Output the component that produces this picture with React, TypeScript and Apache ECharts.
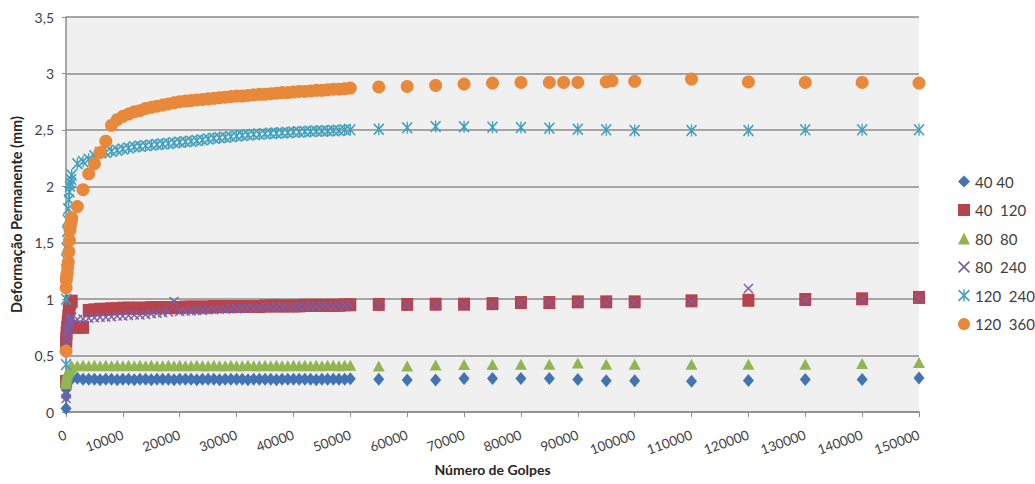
import React, { useEffect, useRef } from "react";
import * as echarts from "echarts";

// Load cycles (número de golpes) shared by most test series
const golpes = [
  10, 20, 50, 100, 200, 300, 400, 500, 600, 700, 800, 900, 1000,
  2000, 3000, 4000, 5000, 6000, 7000, 8000, 9000, 10000,
  11000, 12000, 13000, 14000, 15000, 16000, 17000, 18000, 19000, 20000,
  21000, 22000, 23000, 24000, 25000, 26000, 27000, 28000, 29000, 30000,
  31000, 32000, 33000, 34000, 35000, 36000, 37000, 38000, 39000, 40000,
  41000, 42000, 43000, 44000, 45000, 46000, 47000, 48000, 49000, 50000,
  55000, 60000, 65000, 70000, 75000, 80000, 85000, 90000, 95000, 100000,
  110000, 120000, 130000, 140000, 150000,
];

// The 120/360 test has two extra readings (87500 and 96000)
const golpes120x360 = [
  10, 20, 50, 100, 200, 300, 400, 500, 600, 700, 800, 900, 1000,
  2000, 3000, 4000, 5000, 6000, 7000, 8000, 9000, 10000,
  11000, 12000, 13000, 14000, 15000, 16000, 17000, 18000, 19000, 20000,
  21000, 22000, 23000, 24000, 25000, 26000, 27000, 28000, 29000, 30000,
  31000, 32000, 33000, 34000, 35000, 36000, 37000, 38000, 39000, 40000,
  41000, 42000, 43000, 44000, 45000, 46000, 47000, 48000, 49000, 50000,
  55000, 60000, 65000, 70000, 75000, 80000, 85000, 87500, 90000, 95000, 96000, 100000,
  110000, 120000, 130000, 140000, 150000,
];

// Permanent deformation (mm)
const def40x40 = [
  0.03, 0.14, 0.2, 0.22, 0.25, 0.26, 0.27, 0.27, 0.28, 0.28, 0.29, 0.29, 0.3,
  0.3, 0.29, 0.29, 0.29, 0.285, 0.29, 0.29, 0.285, 0.29,
  0.29, 0.285, 0.29, 0.29, 0.285, 0.29, 0.29, 0.29, 0.285, 0.29,
  0.29, 0.29, 0.285, 0.29, 0.29, 0.29, 0.285, 0.29, 0.29, 0.29,
  0.29, 0.285, 0.29, 0.29, 0.29, 0.29, 0.285, 0.29, 0.29, 0.29,
  0.29, 0.29, 0.29, 0.285, 0.29, 0.29, 0.29, 0.29, 0.29, 0.295,
  0.29, 0.284, 0.284, 0.296, 0.296, 0.296, 0.296, 0.287, 0.278, 0.278,
  0.272, 0.28, 0.287, 0.287, 0.302,
];

const def40x120 = [
  0.27, 0.61, 0.65, 0.7, 0.75, 0.8, 0.85, 0.9, 0.93, 0.96, 0.98, 0.98, 0.98,
  0.75, 0.75, 0.9, 0.905, 0.91, 0.91, 0.915, 0.915, 0.92,
  0.92, 0.92, 0.92, 0.92, 0.925, 0.925, 0.925, 0.925, 0.925, 0.925,
  0.93, 0.93, 0.93, 0.93, 0.93, 0.935, 0.935, 0.935, 0.935, 0.935,
  0.935, 0.935, 0.935, 0.935, 0.94, 0.94, 0.94, 0.94, 0.94, 0.94,
  0.94, 0.945, 0.945, 0.945, 0.945, 0.945, 0.945, 0.945, 0.95, 0.95,
  0.953, 0.953, 0.955, 0.955, 0.96, 0.97, 0.97, 0.976, 0.976, 0.976,
  0.985, 0.99, 0.997, 1.003, 1.015,
];

const def80x80 = [
  0.25, 0.27, 0.29, 0.31, 0.33, 0.35, 0.36, 0.37, 0.38, 0.39, 0.4, 0.4, 0.41,
  0.41, 0.415, 0.41, 0.415, 0.41, 0.415, 0.41, 0.415, 0.41,
  0.415, 0.41, 0.415, 0.41, 0.415, 0.41, 0.41, 0.415, 0.41, 0.415,
  0.41, 0.41, 0.415, 0.41, 0.41, 0.415, 0.41, 0.41, 0.415, 0.41,
  0.41, 0.415, 0.41, 0.41, 0.415, 0.41, 0.415, 0.41, 0.41, 0.415,
  0.41, 0.415, 0.41, 0.415, 0.41, 0.415, 0.415, 0.41, 0.415, 0.415,
  0.408, 0.408, 0.417, 0.42, 0.42, 0.423, 0.423, 0.435, 0.423, 0.423,
  0.423, 0.423, 0.423, 0.43, 0.438,
];

const def80x240 = [
  0.12, 0.16, 0.6, 0.65, 0.7, 0.72, 0.75, 0.78, 0.8, 0.82, 0.83, 0.84, 0.84,
  0.82, 0.825, 0.83, 0.835, 0.84, 0.84, 0.845, 0.85, 0.85,
  0.855, 0.86, 0.86, 0.865, 0.87, 0.875, 0.88, 0.885, 0.98, 0.89,
  0.895, 0.895, 0.9, 0.9, 0.905, 0.905, 0.91, 0.91, 0.915, 0.915,
  0.92, 0.92, 0.92, 0.925, 0.925, 0.925, 0.93, 0.93, 0.93, 0.93,
  0.935, 0.935, 0.935, 0.935, 0.94, 0.94, 0.94, 0.94, 0.945, 0.945,
  0.948, 0.948, 0.95, 0.95, 0.955, 0.965, 0.965, 0.97, 0.97, 0.972,
  0.98, 1.095, 0.99, 1.0, 1.01,
];

const def120x240 = [
  0.42, 1.0, 1.35, 1.45, 1.6, 1.7, 1.8, 1.88, 1.95, 2.0, 2.03, 2.06, 2.1,
  2.2, 2.22, 2.24, 2.27, 2.3, 2.3, 2.31, 2.32, 2.33,
  2.34, 2.35, 2.355, 2.36, 2.365, 2.37, 2.375, 2.38, 2.385, 2.39,
  2.395, 2.4, 2.405, 2.41, 2.42, 2.425, 2.43, 2.435, 2.44, 2.445,
  2.45, 2.455, 2.46, 2.46, 2.465, 2.47, 2.47, 2.475, 2.475, 2.48,
  2.48, 2.485, 2.485, 2.49, 2.49, 2.49, 2.495, 2.495, 2.5, 2.5,
  2.506, 2.518, 2.53, 2.527, 2.524, 2.52, 2.515, 2.506, 2.5, 2.494,
  2.494, 2.494, 2.5, 2.5, 2.5,
];

const def120x360 = [
  0.54, 1.1, 1.17, 1.2, 1.23, 1.28, 1.33, 1.42, 1.52, 1.61, 1.66, 1.69, 1.72,
  1.82, 1.97, 2.11, 2.2, 2.3, 2.4, 2.54, 2.59, 2.62,
  2.64, 2.66, 2.67, 2.69, 2.7, 2.71, 2.72, 2.73, 2.74, 2.75,
  2.755, 2.76, 2.765, 2.77, 2.775, 2.78, 2.785, 2.79, 2.795, 2.8,
  2.8, 2.805, 2.81, 2.815, 2.815, 2.82, 2.825, 2.83, 2.83, 2.835,
  2.84, 2.84, 2.845, 2.85, 2.85, 2.855, 2.86, 2.86, 2.865, 2.87,
  2.88, 2.885, 2.894, 2.906, 2.915, 2.92, 2.92, 2.92, 2.92, 2.926, 2.935, 2.93,
  2.95, 2.925, 2.92, 2.92, 2.915,
];

const seriesNames = ["40 40", "40  120", "80  80", "80  240", "120  240", "120  360"];
const seriesColors = ["#4473b4", "#b8434a", "#92b552", "#7b5ea6", "#43a0bd", "#e8883a"];

// Marker shapes: a thin "x" and an asterisk (x with a vertical bar)
const crossPath =
  "path://M0,1L1,0L5,4L9,0L10,1L6,5L10,9L9,10L5,6L1,10L0,9L4,5Z";
const starPath =
  "path://M0,1L1,0L5,4L9,0L10,1L6,5L10,9L9,10L5,6L1,10L0,9L4,5ZM4.4,0L5.6,0L5.6,10L4.4,10Z";

const pairs = (xs: number[], ys: number[]) => xs.map((x, i) => [x, ys[i]]);

export default function App() {
  const ref = useRef<HTMLDivElement>(null);

  useEffect(() => {
    if (!ref.current) return;
    const chart = echarts.init(ref.current, undefined, { renderer: "svg" });

    const axisGray = "#8c8c8c";
    const labelColor = "#404040";

    const seriesDefs = [
      { data: pairs(golpes, def40x40), symbol: "diamond", symbolSize: [11, 13] },
      { data: pairs(golpes, def40x120), symbol: "rect", symbolSize: [12, 13] },
      { data: pairs(golpes, def80x80), symbol: "triangle", symbolSize: [12, 11] },
      { data: pairs(golpes, def80x240), symbol: crossPath, symbolSize: [10, 10] },
      { data: pairs(golpes, def120x240), symbol: starPath, symbolSize: [11, 12] },
      { data: pairs(golpes120x360, def120x360), symbol: "circle", symbolSize: 13 },
    ];

    chart.setOption({
      animation: false,
      backgroundColor: "#ffffff",
      textStyle: { fontFamily: "Lato" },
      grid: {
        left: 66,
        top: 17,
        width: 853,
        height: 395,
        show: true,
        backgroundColor: "#f0f0f0",
        borderWidth: 0,
        outerBoundsMode: "none",
      },
      xAxis: {
        type: "value",
        min: 0,
        max: 150000,
        interval: 10000,
        name: "Número de Golpes",
        nameLocation: "middle",
        nameGap: 50,
        nameTextStyle: { fontWeight: "bold", fontSize: 14, color: "#262626", fontFamily: "Lato" },
        axisLine: { show: true, lineStyle: { color: axisGray, width: 1.5 } },
        axisTick: { show: true, length: 5, lineStyle: { color: axisGray } },
        axisLabel: {
          rotate: 20,
          fontSize: 13.5,
          color: labelColor,
          margin: 22,
          fontFamily: "Lato",
          formatter: (v: number) => String(v),
        },
        splitLine: { show: false },
      },
      yAxis: {
        type: "value",
        min: 0,
        max: 3.5,
        interval: 0.5,
        name: "Deformação Permanente (mm)",
        nameLocation: "middle",
        nameGap: 41,
        nameTextStyle: { fontWeight: "bold", fontSize: 14.5, color: "#262626", fontFamily: "Lato" },
        axisLine: { show: true, lineStyle: { color: axisGray, width: 1.5 } },
        axisTick: { show: true, length: 4, lineStyle: { color: axisGray } },
        axisLabel: {
          fontSize: 14,
          color: labelColor,
          margin: 12,
          fontFamily: "Lato",
          formatter: (v: number) => String(v).replace(".", ","),
        },
        splitLine: { show: true, lineStyle: { color: axisGray, width: 1.5 } },
      },
      legend: {
        orient: "vertical",
        left: 953,
        top: 169,
        itemWidth: 12,
        itemHeight: 12,
        itemGap: 13.5,
        textStyle: { fontSize: 15, color: labelColor, fontFamily: "Lato" },
        data: seriesNames,
      },
      series: seriesDefs.map((s, i) => ({
        type: "scatter",
        name: seriesNames[i],
        data: s.data,
        symbol: s.symbol,
        symbolSize: s.symbolSize,
        itemStyle: { color: seriesColors[i], opacity: 1 },
        emphasis: { disabled: true },
      })),
    });

    return () => chart.dispose();
  }, []);

  return (
    <div
      ref={ref}
      style={{ position: "absolute", left: 0, top: 0, width: 1035, height: 484, background: "#ffffff" }}
    />
  );
}
